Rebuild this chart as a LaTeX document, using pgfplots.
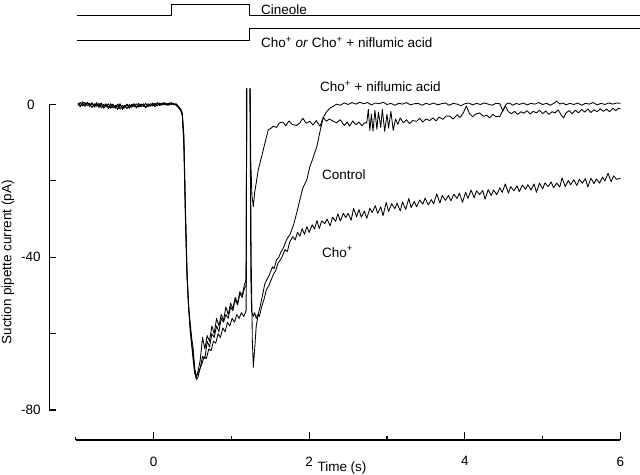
\documentclass[border=0pt]{standalone}
\usepackage{pgfplots}
\pgfplotsset{compat=1.18}
\usepackage{fontspec}
\setmainfont{Liberation Sans}
\begin{document}
\fontsize{13.5pt}{16pt}\selectfont
\begin{tikzpicture}
\useasboundingbox (0,0) rectangle (640pt,474pt);
\pgfplotsset{tr/.style={black, line width=0.85pt, line join=round, no markers}}
% ---------------- data axis (full frame) ----------------
\begin{axis}[at={(0pt,0pt)}, anchor=south west, scale only axis,
  width=640pt, height=474pt,
  xmin=-1.9723, xmax=6.2508, ymin=-96.75, ymax=27.36,
  hide axis, clip=false, unbounded coords=jump]
% y axis line and inward ticks (detached, 0 to -80)
\addplot[black, line width=1.1pt, no markers, line cap=rect] coordinates {(-1.3388,-80) (-1.3388,0)};
\addplot[black, line width=1.1pt, no markers] coordinates {(-1.3388,-80) (-1.2553,-80) (-1.3,nan) (-1.3388,-60) (-1.2553,-60) (-1.3,nan) (-1.3388,-40) (-1.2553,-40) (-1.3,nan) (-1.3388,-20) (-1.2553,-20) (-1.3,nan) (-1.3388,0) (-1.2553,0)};
% stimulus traces
\addplot[tr] coordinates {(-0.987,23.25) (0.234,23.25) (0.234,26.24) (1.227,26.24) (1.227,23.25) (6.25,23.25)};
\addplot[tr] coordinates {(-0.987,16.89) (1.227,16.89) (1.227,20.03) (6.25,20.03)};
% trace A (fast recovery)
\addplot[tr] coordinates {(-0.97,0.4) (-0.94,-0.3) (-0.91,0.7) (-0.88,0.0) (-0.85,0.5) (-0.82,-0.6) (-0.79,0.3) (-0.76,-0.4) (-0.73,0.5) (-0.70,-0.8) (-0.67,0.1) (-0.64,-1.0) (-0.61,-0.1) (-0.58,-0.7) (-0.55,0.2) (-0.52,-0.9) (-0.49,-0.2) (-0.46,-1.3) (-0.43,-0.1) (-0.40,-0.9) (-0.37,-0.2) (-0.34,-1.1) (-0.31,0.0) (-0.28,-0.7) (-0.25,0.1) (-0.22,-0.9) (-0.19,-0.1) (-0.16,-0.6) (-0.13,0.2) (-0.10,-0.7) (-0.07,0.0) (-0.04,-0.5) (-0.01,0.2) (0.02,-0.6) (0.05,0.3) (0.08,-0.3) (0.11,0.4) (0.14,-0.1) (0.17,0.3) (0.20,-0.2) (0.23,0.4) (0.26,0.0) (0.29,0.1) (0.32,-0.6) (0.35,-1.4) (0.37,-2.5) (0.39,-9) (0.41,-28) (0.43,-44) (0.45,-53) (0.47,-57) (0.49,-61) (0.51,-64) (0.53,-69) (0.55,-71.5) (0.57,-70) (0.60,-67) (0.63,-61) (0.66,-64) (0.69,-60.5) (0.72,-62) (0.75,-58) (0.78,-60) (0.81,-56) (0.84,-58) (0.87,-55) (0.90,-56.5) (0.93,-53) (0.96,-55) (0.99,-52) (1.02,-53.5) (1.05,-50.5) (1.08,-52) (1.11,-49) (1.14,-50) (1.17,-47) (1.19,-46) (1.197,4.2) (1.22,nan) (1.24,4.2) (1.25,-15) (1.265,-24) (1.283,-26.7) (1.30,-23) (1.32,-20.5) (1.347,-17) (1.39,-13.6) (1.433,-10) (1.475,-6.6) (1.51,-6.2) (1.54,-5.7) (1.58,-6) (1.62,-4.8) (1.665,-4.6) (1.70,-5.6) (1.74,-4.3) (1.78,-5.2) (1.84,-5.5) (1.88,-4.8) (1.92,-3.6) (1.96,-4.9) (2.01,-4.4) (2.05,-5.4) (2.09,-4.2) (2.14,-5.7) (2.18,-3.4) (2.22,-4.4) (2.26,-3.8) (2.31,-4.4) (2.35,-4.8) (2.40,-4.0) (2.45,-5.5) (2.49,-4.6) (2.52,-5.7) (2.56,-4.3) (2.60,-5.3) (2.64,-4.6) (2.68,-5.6) (2.71,-4.8) (2.74,-4.8) (2.76,-1.3) (2.78,-6.8) (2.80,-2.5) (2.82,-7) (2.845,-1.5) (2.87,-6.5) (2.89,-2) (2.92,-6) (2.94,-1.3) (2.97,-7) (3.00,-2.5) (3.02,-6.2) (3.05,-1.8) (3.08,-6.8) (3.11,-3.8) (3.14,-5.2) (3.17,-3.5) (3.21,-4.8) (3.25,-4.0) (3.29,-5.0) (3.33,-4.2) (3.38,-4.4) (3.42,-3.6) (3.46,-4.6) (3.50,-3.8) (3.55,-4.2) (3.59,-3.5) (3.63,-4.3) (3.67,-3.3) (3.72,-3.9) (3.76,-3.0) (3.81,-3.1) (3.85,-3.8) (3.90,-2.7) (3.94,-3.4) (3.98,-2.2) (4.02,-0.4) (4.06,-2.4) (4.10,-3.2) (4.14,-2.5) (4.19,-2.2) (4.24,-3.1) (4.28,-2.8) (4.32,-3.5) (4.36,-2.6) (4.40,-3.2) (4.45,-3.1) (4.49,-1.5) (4.52,-0.4) (4.56,-1.9) (4.60,-2.4) (4.64,-1.8) (4.68,-2.6) (4.72,-1.9) (4.76,-2.3) (4.80,-1.6) (4.84,-2.5) (4.88,-1.8) (4.92,-2.2) (4.96,-1.5) (5.00,-2.4) (5.04,-1.7) (5.08,-2.6) (5.12,-1.9) (5.16,-2.2) (5.20,-1.4) (5.24,-2.8) (5.27,-3.5) (5.30,-2.2) (5.34,-1.6) (5.38,-2.4) (5.42,-1.5) (5.46,-2.2) (5.50,-1.3) (5.54,-2.0) (5.58,-1.2) (5.62,-2.1) (5.66,-1.4) (5.70,-1.9) (5.74,-1.1) (5.78,-1.8) (5.82,-1.2) (5.86,-1.9) (5.90,-1.0) (5.94,-1.6) (5.97,-1.0) (6.00,-1.1)};
% trace B (control)
\addplot[tr] coordinates {(-0.97,-0.2) (-0.94,0.6) (-0.91,-0.4) (-0.88,0.5) (-0.85,-0.3) (-0.82,0.3) (-0.79,-0.8) (-0.76,0.2) (-0.73,-0.5) (-0.70,0.3) (-0.67,-0.9) (-0.64,0.0) (-0.61,-0.6) (-0.58,0.2) (-0.55,-1.0) (-0.52,-0.1) (-0.49,-0.8) (-0.46,0.1) (-0.43,-1.2) (-0.40,-0.2) (-0.37,-0.9) (-0.34,0.0) (-0.31,-0.8) (-0.28,0.1) (-0.25,-0.6) (-0.22,0.2) (-0.19,-0.7) (-0.16,0.1) (-0.13,-0.5) (-0.10,0.3) (-0.07,-0.6) (-0.04,0.2) (-0.01,-0.4) (0.02,0.3) (0.05,-0.3) (0.08,0.4) (0.11,-0.2) (0.14,0.3) (0.17,-0.1) (0.20,0.4) (0.23,0.0) (0.26,0.3) (0.29,-0.2) (0.32,-0.8) (0.35,-1.6) (0.37,-3) (0.39,-11) (0.41,-30) (0.43,-45) (0.45,-52) (0.47,-58) (0.49,-62) (0.51,-66) (0.53,-70) (0.55,-72) (0.57,-71.5) (0.60,-69) (0.63,-66) (0.66,-66.5) (0.69,-62) (0.72,-63.5) (0.75,-60) (0.78,-61) (0.81,-58) (0.84,-59.5) (0.87,-56) (0.90,-57) (0.93,-55) (0.96,-56) (0.99,-53) (1.02,-54) (1.05,-51) (1.08,-52.5) (1.11,-49.5) (1.14,-50.5) (1.17,-48) (1.19,-47.5) (1.198,4.2) (1.22,nan) (1.24,4.2) (1.255,-40) (1.27,-62) (1.283,-68.8) (1.30,-64) (1.32,-58) (1.345,-55) (1.37,-52.9) (1.40,-50) (1.43,-47) (1.455,-45.9) (1.48,-45) (1.50,-44) (1.53,-42.5) (1.55,-43) (1.58,-40.7) (1.61,-40) (1.64,-38.5) (1.67,-37.5) (1.71,-35.4) (1.754,-34) (1.80,-31.5) (1.84,-28.4) (1.88,-25) (1.92,-21.8) (1.97,-19.7) (2.01,-16.2) (2.05,-14) (2.10,-10.9) (2.14,-7) (2.18,-3.5) (2.22,-2) (2.27,-0.9) (2.31,-0.5) (2.35,0.1) (2.40,-0.2) (2.45,0.4) (2.50,0) (2.55,0.5) (2.60,0.1) (2.65,0.6) (2.70,0.2) (2.75,0.5) (2.80,-0.1) (2.85,0.4) (2.90,0.2) (2.95,0.6) (3.00,0) (3.05,0.3) (3.10,-0.2) (3.15,0.3) (3.20,0.1) (3.25,0.5) (3.30,-0.1) (3.35,0.2) (3.40,0.3) (3.45,-0.2) (3.50,0.3) (3.55,0) (3.60,0.4) (3.65,-0.1) (3.70,0.2) (3.75,0.4) (3.80,-0.2) (3.85,0.3) (3.90,0.1) (3.95,-0.3) (4.00,0.2) (4.05,0.4) (4.10,-0.1) (4.15,0.3) (4.20,0) (4.25,0.4) (4.30,0.1) (4.35,-0.2) (4.40,0.3) (4.45,0.2) (4.49,-1.7) (4.53,0.1) (4.57,0.4) (4.62,-0.2) (4.66,0.3) (4.70,0) (4.75,0.4) (4.80,-0.1) (4.85,0.3) (4.90,0.1) (4.95,0.5) (5.00,0) (5.05,0.3) (5.10,-0.2) (5.15,0.4) (5.18,0.9) (5.22,0.1) (5.26,0.4) (5.30,-0.1) (5.35,0.3) (5.40,0) (5.45,0.4) (5.50,-0.2) (5.55,0.3) (5.60,0.1) (5.65,0.5) (5.70,-0.1) (5.75,0.3) (5.80,0) (5.85,0.4) (5.90,0.1) (5.95,0.4) (6.00,0.3)};
% trace C (Cho+)
\addplot[tr] coordinates {(-0.97,0.1) (-0.94,-0.6) (-0.91,0.3) (-0.88,-0.5) (-0.85,0.6) (-0.82,-0.2) (-0.79,0.5) (-0.76,-0.7) (-0.73,0.1) (-0.70,-0.4) (-0.67,0.4) (-0.64,-0.5) (-0.61,0.2) (-0.58,-1.1) (-0.55,-0.3) (-0.52,0.1) (-0.49,-1.0) (-0.46,-0.4) (-0.43,0.2) (-0.40,-1.3) (-0.37,-0.5) (-0.34,0.1) (-0.31,-1.0) (-0.28,-0.3) (-0.25,0.2) (-0.22,-0.8) (-0.19,0.3) (-0.16,-0.5) (-0.13,0.0) (-0.10,-0.9) (-0.07,0.2) (-0.04,-0.3) (-0.01,0.4) (0.02,-0.2) (0.05,0.5) (0.08,-0.1) (0.11,0.2) (0.14,0.5) (0.17,-0.2) (0.20,0.1) (0.23,0.5) (0.26,-0.1) (0.29,0.2) (0.32,-0.5) (0.35,-1.2) (0.37,-2.2) (0.39,-8) (0.41,-27) (0.43,-43) (0.45,-53) (0.47,-59) (0.49,-63) (0.51,-67) (0.53,-70.5) (0.55,-71) (0.57,-70.5) (0.59,-69.5) (0.62,-68) (0.65,-66) (0.68,-66.5) (0.71,-64) (0.74,-64.5) (0.77,-62) (0.80,-62.5) (0.83,-60) (0.86,-61) (0.89,-58.5) (0.92,-59.5) (0.95,-57) (0.98,-58) (1.01,-56) (1.04,-57) (1.07,-55) (1.10,-56) (1.13,-54.5) (1.16,-55.5) (1.19,-54) (1.199,4.2) (1.22,nan) (1.241,4.2) (1.25,-45) (1.26,-54) (1.28,-55.5) (1.30,-54.5) (1.32,-56) (1.34,-55) (1.36,-55.5) (1.39,-53) (1.42,-51) (1.45,-48.5) (1.48,-47.5) (1.51,-46) (1.54,-44.5) (1.57,-43.5) (1.60,-41.5) (1.63,-40.7) (1.66,-39.5) (1.69,-38) (1.72,-38.5) (1.75,-36) (1.79,-34.6) (1.82,-35.5) (1.85,-33.5) (1.88,-34.5) (1.91,-32.5) (1.94,-34) (1.97,-32) (2.00,-33.5) (2.04,-31.5) (2.07,-32.6) (2.10,-30.4) (2.13,-32.5) (2.16,-30.5) (2.20,-31.2) (2.23,-30) (2.27,-31.8) (2.30,-29.5) (2.34,-30.6) (2.37,-28.6) (2.40,-30.5) (2.44,-28.5) (2.47,-29.6) (2.50,-28.5) (2.54,-30.3) (2.57,-27.2) (2.61,-29.4) (2.64,-27.5) (2.67,-29.5) (2.71,-27.9) (2.74,-29.8) (2.78,-27.2) (2.81,-28.3) (2.85,-26.5) (2.88,-28.5) (2.92,-26.8) (2.95,-29.1) (2.99,-25.6) (3.02,-28) (3.06,-26) (3.10,-27.3) (3.13,-25.8) (3.17,-27.9) (3.20,-25.5) (3.24,-27.5) (3.28,-24.6) (3.31,-27) (3.35,-25.4) (3.38,-26.8) (3.42,-25) (3.46,-26.1) (3.49,-24.5) (3.53,-26.3) (3.57,-24.9) (3.60,-26) (3.64,-23.4) (3.68,-25.8) (3.71,-23.8) (3.75,-25.1) (3.79,-23.8) (3.82,-25.2) (3.86,-23.5) (3.90,-24.6) (3.93,-23.2) (3.97,-25.6) (4.01,-23) (4.04,-24.6) (4.08,-22.4) (4.12,-24.4) (4.15,-22.6) (4.19,-23.6) (4.23,-22.5) (4.26,-24.8) (4.30,-22.3) (4.34,-23.8) (4.37,-22.4) (4.41,-23.6) (4.45,-21.8) (4.48,-23) (4.52,-20.8) (4.56,-23.2) (4.59,-21.5) (4.63,-22.6) (4.67,-21.3) (4.70,-22.8) (4.74,-21.1) (4.78,-22.2) (4.81,-21) (4.85,-22.4) (4.89,-20.8) (4.92,-23) (4.96,-20.6) (5.00,-22.1) (5.03,-20.5) (5.07,-21.5) (5.11,-20.3) (5.14,-21.8) (5.18,-20.6) (5.22,-21.6) (5.25,-19.2) (5.29,-21.5) (5.33,-19.9) (5.36,-21) (5.40,-19.7) (5.44,-21.2) (5.47,-19.6) (5.51,-20.6) (5.55,-19.4) (5.58,-21.6) (5.62,-19.3) (5.66,-20.7) (5.69,-19.5) (5.73,-20.6) (5.77,-19) (5.80,-20) (5.84,-18) (5.88,-20.2) (5.91,-18.7) (5.95,-19.6) (6.00,-19.3)};
% labels
\node[anchor=west, inner sep=0pt] at (axis cs:1.381,24.88) {Cineole};
\node[anchor=west, inner sep=0pt] at (axis cs:1.381,16.37) {Cho\textsuperscript{+} \textit{or} Cho\textsuperscript{+} + niflumic acid};
\node[anchor=west, inner sep=0pt] at (axis cs:2.139,4.84) {Cho\textsuperscript{+} + niflumic acid};
\node[anchor=west, inner sep=0pt] at (axis cs:2.165,-18.46) {Control};
\node[anchor=west, inner sep=0pt] at (axis cs:2.165,-38.6) {Cho\textsuperscript{+}};
\end{axis}
% ---------------- y axis (tick labels and title) ----------------
\begin{axis}[at={(49.3pt,64pt)}, anchor=south west, scale only axis,
  width=20pt, height=305.5pt, xmin=0, xmax=1, ymin=-80, ymax=0,
  clip=false,
  axis y line*=left, axis x line=none,
  y axis line style={black, line width=1.1pt},
  every tick/.style={black, line width=1.1pt},
  tick align=inside, major tick length=6.5pt,
  ytick={-80,-60,-40,-20,0}, yticklabels={-80,,-40,,0},
  yticklabel style={anchor=center, xshift=-18.3pt},
  ylabel={Suction pipette current (pA)},
  every axis y label/.style={at={(axis description cs:0,0.5)}, xshift=-41.5pt, yshift=-5pt, rotate=90, anchor=center}]
\end{axis}
% ---------------- x axis ----------------
\begin{axis}[at={(75.7pt,34pt)}, anchor=south west, scale only axis,
  width=544.8pt, height=20pt, xmin=-1, xmax=6, ymin=0, ymax=1,
  axis x line*=bottom, axis y line=none,
  x axis line style={line width=1.1pt},
  every tick/.style={black, line width=1.1pt},
  tick align=inside, major tick length=8pt, minor tick length=4.5pt,
  xtick={0,2,4,6}, xticklabels={0,2,4,6}, minor xtick={1,3,5},
  extra x ticks={-1}, extra x tick labels={}, extra x tick style={major tick length=3pt},
  xticklabel style={yshift=-12pt},
  xlabel={Time (s)},
  every axis x label/.style={at={(axis description cs:0,0)}, anchor=center, xshift=266.3pt, yshift=-28pt}]
\end{axis}
\end{tikzpicture}
\end{document}
